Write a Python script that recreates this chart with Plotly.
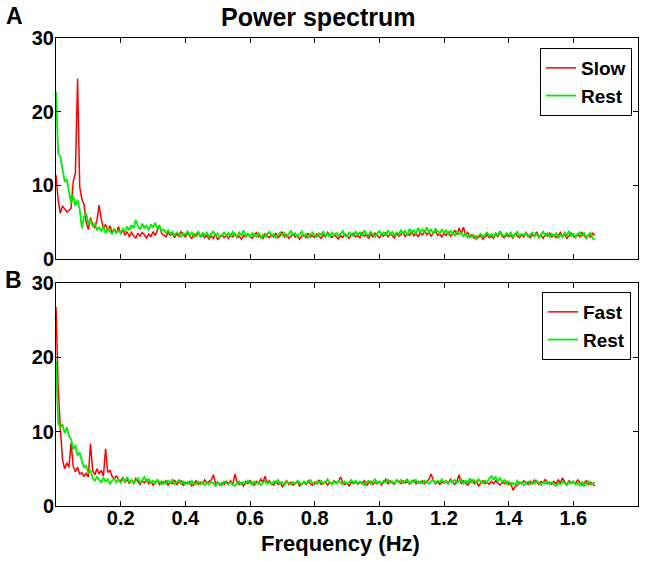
import plotly.graph_objects as go

# Frequency grid (Hz): spectral bins of 1/150 Hz up to 1.667 Hz
bin_width_hz = 1 / 150
n_bins = 251
freq = [i * bin_width_hz for i in range(n_bins)]

# Panel A: Slow vs Rest
slow_a = [
    11.4, 8.0, 6.2, 7.2, 6.8, 6.4, 6.6, 6.9, 10.5, 11.6,
    24.5, 9.8, 8.1, 7.4, 5.0, 4.0, 5.6, 4.7, 4.2, 5.3,
    7.3, 5.4, 4.2, 4.7, 3.8, 4.5, 3.6, 4.1, 3.5, 4.4,
    3.4, 3.9, 3.3, 3.7, 3.0, 3.6, 3.2, 2.8, 3.5, 3.1,
    3.6, 3.3, 2.8, 3.4, 3.0, 3.7, 3.2, 3.9, 4.6, 3.5,
    3.3, 3.0, 3.6, 3.2, 3.5, 2.9, 3.4, 3.1, 3.7, 3.3,
    3.0, 3.5, 3.2, 2.8, 3.4, 3.1, 3.6, 3.0, 3.3, 2.9,
    3.2, 2.7, 3.1, 2.8, 3.4, 2.6, 3.0, 3.3, 2.9, 3.2,
    2.8, 3.3, 3.0, 3.5, 2.9, 3.1, 2.7, 3.2, 3.0, 3.4,
    3.1, 2.8, 3.3, 3.6, 3.0, 3.2, 2.8, 3.4, 3.1, 2.9,
    3.3, 3.0, 3.5, 2.9, 3.2, 3.7, 3.0, 3.3, 2.8, 3.1,
    3.4, 3.0, 3.2, 2.7, 3.1, 3.3, 2.9, 3.5, 3.0, 3.2,
    2.9, 3.4, 3.1, 2.8, 3.3, 3.0, 3.6, 3.2, 2.9, 3.3,
    3.0, 2.7, 3.2, 2.9, 3.4, 3.1, 2.8, 3.3, 3.5, 3.0,
    3.2, 2.9, 3.6, 3.1, 3.3, 2.8, 3.4, 3.0, 3.5, 3.2,
    2.9, 3.3, 3.1, 3.6, 3.0, 3.4, 3.2, 2.8, 3.5, 3.1,
    3.3, 3.7, 3.0, 3.4, 3.2, 3.8, 3.1, 3.5, 3.0, 3.6,
    3.2, 3.9, 3.3, 3.6, 3.1, 3.5, 3.8, 3.2, 3.4, 3.0,
    3.5, 3.2, 3.7, 3.1, 3.4, 3.9, 3.3, 4.2, 3.4, 4.3,
    3.3, 3.6, 3.0, 3.3, 2.8, 3.1, 2.9, 3.2, 2.7, 3.0,
    3.3, 2.9, 3.1, 2.8, 3.4, 3.0, 3.7, 3.1, 2.9, 3.3,
    3.0, 3.2, 2.8, 3.5, 3.1, 2.9, 3.3, 3.0, 3.6, 3.2,
    2.9, 3.3, 3.1, 3.7, 3.0, 3.2, 2.8, 3.4, 3.1, 3.5,
    3.0, 3.3, 2.9, 3.2, 3.6, 3.0, 3.4, 2.8, 3.1, 3.5,
    3.1, 2.9, 3.4, 3.0, 3.6, 3.2, 2.8, 3.3, 3.0, 3.5, 3.2,
]
rest_a = [
    22.7, 14.3, 13.9, 12.4, 10.6, 10.8, 9.2, 7.6, 8.6, 7.2,
    8.0, 6.7, 4.2, 5.8, 6.2, 4.7, 5.4, 4.4, 4.9, 3.9,
    4.3, 3.8, 4.4, 3.5, 4.1, 3.7, 3.4, 4.0, 3.6, 3.9,
    3.5, 4.1, 3.7, 4.4, 3.9, 4.6, 4.2, 5.3, 4.5, 4.0,
    4.8, 4.2, 4.6, 3.9, 4.7, 4.3, 4.9, 4.1, 4.5, 3.8,
    4.0, 3.5, 3.9, 3.4, 3.7, 3.2, 3.6, 3.3, 3.0, 3.5,
    3.3, 3.8, 3.2, 3.6, 3.0, 3.4, 3.7, 3.1, 3.5, 3.2,
    3.6, 3.0, 3.4, 3.8, 3.1, 3.5, 2.9, 3.3, 3.6, 3.2,
    3.5, 3.1, 3.7, 3.3, 3.0, 3.6, 3.2, 3.9, 3.1, 3.4,
    3.0, 3.5, 3.2, 3.0, 3.6, 2.8, 3.3, 3.0, 3.4, 3.7,
    3.1, 3.4, 2.9, 3.3, 3.6, 3.2, 3.5, 3.0, 3.4, 3.8,
    3.2, 3.5, 3.0, 3.3, 3.7, 3.1, 3.4, 2.9, 3.3, 3.6,
    3.2, 3.0, 3.5, 3.3, 3.7, 3.1, 3.4, 3.0, 3.6, 3.2,
    3.5, 3.1, 3.4, 3.8, 3.2, 3.0, 3.6, 3.3, 3.1, 3.7,
    3.3, 3.6, 3.1, 3.9, 3.4, 3.2, 3.7, 3.3, 3.0, 3.5,
    3.8, 3.3, 3.6, 3.2, 3.9, 3.4, 3.7, 3.1, 3.6, 3.3,
    3.9, 3.5, 3.8, 3.2, 4.1, 3.6, 3.9, 3.4, 4.2, 3.7,
    4.0, 3.5, 4.3, 3.7, 4.0, 3.4, 4.1, 3.8, 3.5, 4.0,
    3.6, 3.9, 3.3, 3.8, 3.5, 3.2, 3.7, 3.4, 3.6, 3.1,
    3.4, 2.9, 3.3, 3.0, 3.2, 2.7, 3.1, 3.4, 3.0, 3.3,
    3.6, 3.1, 3.4, 3.0, 3.5, 3.2, 3.8, 3.3, 3.1, 3.5,
    3.2, 3.6, 3.0, 3.3, 3.7, 3.1, 3.4, 3.2, 3.5, 3.0,
    3.3, 3.6, 3.1, 3.4, 2.9, 3.3, 3.7, 3.2, 3.5, 3.0,
    3.4, 3.1, 3.5, 2.9, 3.3, 3.0, 3.6, 3.2, 3.8, 3.1,
    3.4, 3.0, 3.3, 3.6, 3.1, 3.5, 2.9, 3.2, 3.6, 2.8, 2.6,
]

# Panel B: Fast vs Rest
fast_b = [
    26.8, 16.0, 10.5, 6.3, 5.0, 5.8, 5.2, 8.5, 5.3, 4.6,
    5.2, 4.3, 4.5, 4.0, 4.4, 3.9, 8.4, 4.8, 4.2, 5.0,
    4.3, 4.8, 4.0, 7.7, 4.5, 4.8, 4.0, 3.6, 4.1, 3.5,
    3.4, 3.8, 3.2, 3.6, 3.0, 3.5, 3.1, 3.7, 3.3, 2.9,
    3.4, 3.1, 3.6, 3.0, 3.3, 2.8, 3.2, 3.5, 2.9, 3.3,
    3.0, 3.4, 2.8, 3.2, 3.0, 3.5, 2.9, 3.1, 3.4, 2.8,
    3.2, 3.0, 3.3, 2.7, 3.1, 3.4, 2.9, 3.2, 3.0, 3.5,
    3.1, 3.3, 3.5, 4.2, 3.0, 3.2, 2.8, 3.1, 2.9, 3.3,
    3.0, 3.4, 2.8, 4.3, 3.2, 2.9, 3.1, 2.7, 3.3, 3.0,
    3.4, 3.1, 2.8, 3.3, 3.0, 3.6, 3.2, 4.0, 3.1, 3.4,
    3.0, 2.8, 3.3, 2.9, 3.2, 2.6, 3.1, 3.4, 2.9, 3.2,
    2.8, 3.1, 3.3, 2.7, 3.0, 3.2, 2.9, 3.4, 3.0, 2.8,
    3.2, 3.0, 3.5, 2.9, 3.1, 3.3, 2.8, 3.2, 3.0, 3.4,
    3.1, 3.3, 3.9, 3.2, 2.9, 3.1, 2.7, 3.2, 3.0, 3.3,
    2.9, 3.2, 3.0, 3.4, 2.8, 3.1, 3.3, 2.9, 3.2, 3.0,
    3.3, 2.8, 3.2, 3.6, 3.0, 3.4, 3.1, 2.9, 3.5, 3.2,
    3.0, 3.4, 3.1, 3.3, 2.9, 3.2, 3.5, 3.0, 3.3, 3.1,
    3.4, 3.0, 3.3, 3.6, 4.3, 3.5, 3.0, 3.3, 2.9, 3.2,
    3.1, 3.4, 3.0, 3.6, 3.2, 2.9, 3.3, 4.2, 3.0, 3.4,
    3.1, 2.8, 3.2, 3.5, 3.0, 3.3, 2.7, 3.1, 3.4, 3.0,
    3.2, 2.9, 3.3, 3.0, 3.4, 3.1, 2.8, 3.2, 3.0, 3.3,
    2.9, 3.1, 2.1, 2.6, 2.8, 3.2, 3.0, 3.4, 3.1, 2.9,
    3.3, 3.0, 3.5, 3.2, 2.9, 3.3, 3.1, 3.6, 3.0, 3.2,
    2.9, 3.3, 3.0, 3.5, 3.1, 3.8, 3.2, 2.9, 3.4, 3.1,
    3.3, 3.0, 3.5, 3.2, 2.8, 3.1, 3.4, 2.9, 3.2, 3.0, 2.7,
]
rest_b = [
    19.5, 11.2, 10.5, 11.0, 9.8, 10.6, 9.4, 9.0, 7.6, 8.2,
    6.8, 7.2, 6.0, 5.2, 5.5, 4.4, 4.8, 3.7, 3.4, 3.9,
    3.5, 3.2, 3.8, 3.3, 3.6, 3.0, 3.4, 3.7, 3.2, 3.5,
    3.1, 3.6, 3.3, 3.9, 3.2, 3.5, 3.0, 3.4, 3.8, 3.1,
    3.5, 3.9, 3.3, 3.6, 3.1, 3.4, 3.0, 3.5, 3.2, 2.9,
    3.3, 3.0, 3.4, 3.1, 3.6, 2.9, 3.2, 3.5, 3.0, 3.3,
    2.9, 3.2, 3.0, 3.4, 2.8, 3.1, 3.3, 2.9, 3.2, 2.8,
    3.1, 2.9, 3.3, 3.0, 2.7, 3.2, 3.0, 2.8, 3.3, 3.1,
    2.9, 3.2, 3.0, 2.7, 3.1, 3.3, 2.9, 3.2, 3.0, 3.4,
    3.1, 2.9, 3.3, 3.0, 3.2, 2.8, 3.1, 3.4, 3.0, 3.2,
    2.9, 3.3, 3.1, 3.5, 3.0, 3.2, 2.8, 3.3, 3.1, 2.9,
    3.2, 3.0, 3.4, 3.1, 2.9, 3.3, 3.0, 3.2, 3.5, 3.1,
    2.9, 3.3, 3.1, 3.4, 3.0, 3.2, 3.6, 3.1, 2.9, 3.3,
    3.0, 3.4, 3.1, 2.9, 3.3, 3.0, 3.2, 3.5, 3.1, 3.4,
    3.0, 3.3, 3.1, 2.8, 3.2, 3.4, 3.0, 3.3, 3.6, 3.1,
    3.3, 3.0, 3.4, 3.2, 3.5, 3.1, 3.3, 3.0, 3.4, 3.2,
    3.5, 3.1, 3.3, 3.6, 3.0, 3.4, 3.2, 3.5, 3.1, 3.3,
    3.0, 3.4, 3.2, 3.0, 3.3, 3.5, 3.1, 3.4, 3.2, 3.6,
    3.1, 3.3, 3.0, 3.4, 3.2, 3.5, 3.1, 3.3, 3.6, 3.0,
    3.4, 3.1, 3.7, 3.2, 3.5, 3.0, 3.6, 3.3, 3.1, 3.4,
    3.2, 3.7, 4.0, 3.6, 3.9, 3.3, 3.8, 3.2, 3.5, 3.0,
    3.3, 2.8, 3.1, 2.9, 3.4, 3.0, 3.2, 2.8, 3.1, 3.3,
    2.9, 3.2, 3.0, 3.4, 3.1, 2.8, 3.2, 3.0, 3.3, 2.9,
    3.2, 3.0, 2.7, 3.1, 2.9, 3.3, 3.0, 2.8, 3.2, 3.0,
    3.3, 2.9, 3.1, 2.8, 3.2, 2.7, 3.0, 3.3, 2.9, 3.1, 3.2,
]

x_tick_vals = [0.2, 0.4, 0.6, 0.8, 1.0, 1.2, 1.4, 1.6]
x_tick_text = ["0.2", "0.4", "0.6", "0.8", "1.0", "1.2", "1.4", "1.6"]
y_tick_vals = [0, 10, 20, 30]

RED = "#ff0000"
GREEN = "#00ee00"
FONT = "Liberation Sans, Arial, sans-serif"

# Pixel geometry of the plotting area
ML, MR, MT, MB = 56, 8, 38, 55
W, H = 646, 561
plot_w = W - ML - MR
plot_h = H - MT - MB

fig = go.Figure()
fig.add_trace(go.Scatter(x=freq, y=slow_a, mode="lines", name="Slow",
                         line=dict(color=RED, width=1.5), xaxis="x", yaxis="y",
                         legend="legend"))
fig.add_trace(go.Scatter(x=freq, y=rest_a, mode="lines", name="Rest",
                         line=dict(color=GREEN, width=1.8), xaxis="x", yaxis="y",
                         legend="legend"))
fig.add_trace(go.Scatter(x=freq, y=fast_b, mode="lines", name="Fast",
                         line=dict(color=RED, width=1.5), xaxis="x2", yaxis="y2",
                         legend="legend2"))
fig.add_trace(go.Scatter(x=freq, y=rest_b, mode="lines", name="Rest",
                         line=dict(color=GREEN, width=1.8), xaxis="x2", yaxis="y2",
                         legend="legend2"))

tickfont = dict(family=FONT, size=20, color="black", weight="bold")
axis_common = dict(showline=True, linecolor="black", linewidth=1, mirror="ticks",
                   ticks="inside", ticklen=5, tickcolor="black", tickwidth=1,
                   showgrid=False, zeroline=False, tickfont=tickfont,
                   automargin=False)


def py_to_paper(py):
    return (H - MB - py) / plot_h


def px_to_paper(px):
    return (px - ML) / plot_w


top_lo = py_to_paper(259)
bot_hi = py_to_paper(283)

legend_common = dict(bgcolor="white", bordercolor="black", borderwidth=1,
                     font=dict(family=FONT, size=19, color="black", weight="bold"),
                     xanchor="right", yanchor="top", tracegroupgap=0,
                     itemwidth=30)

anns = []
for text, (px, py), size in [
    ("<b>Power spectrum</b>", (318, 17), 25),
    ("<b>A</b>", (14, 16), 23),
    ("<b>B</b>", (13, 280), 23),
    ("<b>Frequency (Hz)</b>", (340, 543), 22),
]:
    anns.append(dict(text=text, x=px_to_paper(px), y=py_to_paper(py),
                     xref="paper", yref="paper",
                     xanchor="center", yanchor="middle", showarrow=False,
                     font=dict(family=FONT, size=size, color="black")))

fig.update_layout(
    width=W, height=H,
    margin=dict(l=ML, r=MR, t=MT, b=MB, autoexpand=False),
    paper_bgcolor="white", plot_bgcolor="white",
    font=dict(family=FONT, color="black"),
    xaxis=dict(domain=[0, 1], anchor="y", range=[0, 1.8], tickvals=x_tick_vals,
               ticktext=x_tick_text, showticklabels=False, **axis_common),
    yaxis=dict(domain=[top_lo, 1.0], anchor="x", range=[0, 30],
               tickvals=y_tick_vals, ticklabelstandoff=-3, **axis_common),
    xaxis2=dict(domain=[0, 1], anchor="y2", range=[0, 1.8], tickvals=x_tick_vals,
                ticktext=x_tick_text, ticklabelstandoff=-6, **axis_common),
    yaxis2=dict(domain=[0, bot_hi], anchor="x2", range=[0, 30],
                tickvals=y_tick_vals, ticklabelstandoff=-3, **axis_common),
    legend=dict(x=px_to_paper(632), y=py_to_paper(48), **legend_common),
    legend2=dict(x=px_to_paper(631), y=py_to_paper(292), **legend_common),
    showlegend=True,
    annotations=anns,
)

fig.write_html("out.html",
               config={"displayModeBar": False},
               post_script="document.body.style.margin='0';document.body.style.overflow='hidden';")
